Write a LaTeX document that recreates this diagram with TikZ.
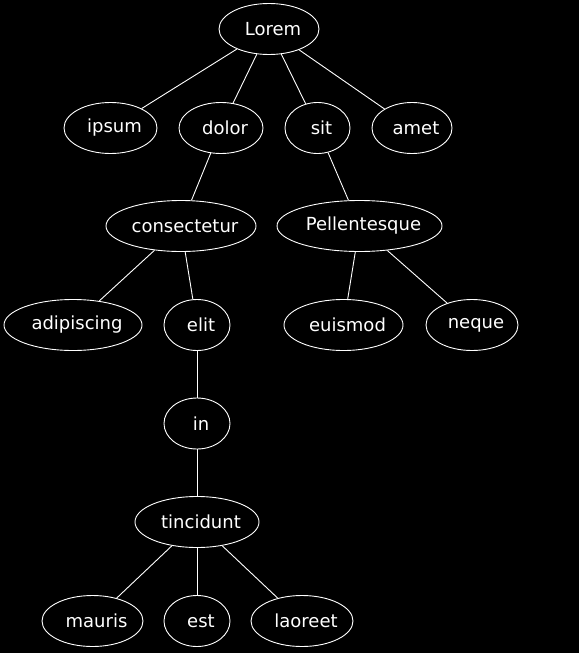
\documentclass[tikz,border=0pt]{standalone}
\usepackage{fontspec}
\setmainfont{DejaVu Sans}
\usetikzlibrary{shapes.geometric}
\newcommand{\wordtext}[1]{\makebox[0pt]{\hspace*{8pt}#1}}
\tikzset{
  word/.style={ellipse, draw=white, line width=0.9pt, text=white, inner sep=0pt,
    minimum height=51pt, font=\fontsize{18}{20}\selectfont},
  branch/.style={draw=white, line width=0.9pt}
}
\begin{document}
\begin{tikzpicture}[x=1pt,y=-1pt]
        \fill[black] (0,0) rectangle (579,653);
        \useasboundingbox (0,0) rectangle (579,653);
        %% nodes
        \foreach \n/\x/\y/\w/\t in {lorem/269/29/100/Lorem,
            ipsum/110.5/128/93/ipsum, dolor/221/128/84/dolor, sit/317.5/128/65/sit, amet/412/128/80/amet,
            consectetur/181/226/150/consectetur, pellentesque/359.5/226/165/Pellentesque,
            adipiscing/73/325/138/adipiscing, elit/197/325/66/elit, euismod/343.5/325/119/euismod, neque/472/325/92/neque,
            in/197/423.5/66/in, tincidunt/197/522/124/tincidunt,
            mauris/92.5/621/101/mauris, est/197/621/66/est, laoreet/302/621/102/laoreet}
            \node[word, minimum width=\w pt] (\n) at (\x,\y) {\wordtext{\t}};
        %% edges
        \foreach \a/\b in {lorem/ipsum, lorem/dolor, lorem/sit, lorem/amet,
            dolor/consectetur, sit/pellentesque,
            consectetur/adipiscing, consectetur/elit, pellentesque/euismod, pellentesque/neque,
            elit/in, in/tincidunt, tincidunt/mauris, tincidunt/est, tincidunt/laoreet}
            \draw[branch] (\a) -- (\b);
    \end{tikzpicture}
\end{document}
